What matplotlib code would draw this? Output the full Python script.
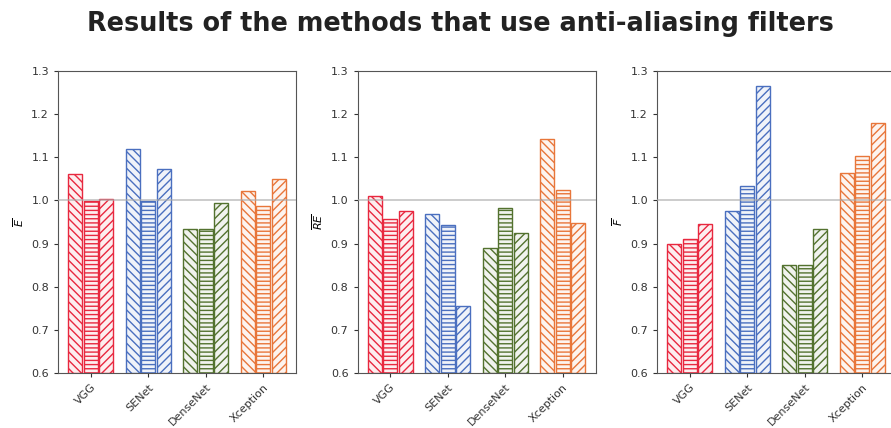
import numpy as np
import matplotlib.pyplot as plt

models = ['VGG', 'SENet', 'DenseNet', 'Xception']
colors = ['#e8283f', '#4a6fbf', '#53722f', '#e8763a']
hatches = ['\\\\\\\\', '----', '////']

# three anti-aliasing variants per model
E_vals = [[1.062, 0.998, 1.003],
          [1.119, 0.998, 1.074],
          [0.934, 0.934, 0.994],
          [1.022, 0.986, 1.050]]
RE_vals = [[1.011, 0.957, 0.976],
           [0.969, 0.943, 0.755],
           [0.890, 0.983, 0.925],
           [1.142, 1.025, 0.948]]
F_vals = [[0.900, 0.910, 0.946],
          [0.976, 1.034, 1.265],
          [0.851, 0.851, 0.934],
          [1.064, 1.103, 1.179]]

panels = [(E_vals, r'$\overline{E}$'),
          (RE_vals, r'$\overline{RE}$'),
          (F_vals, r'$\overline{F}$')]

plt.rcParams['hatch.linewidth'] = 1.0

fig = plt.figure(figsize=(8.91, 4.28), dpi=100)
fig.suptitle('Results of the methods that use anti-aliasing filters',
             fontsize=18.4, fontweight='bold', color='#222222',
             family='DejaVu Sans', x=0.517, y=0.975)

step = 0.27
width = 0.245
x = np.arange(len(models))
for p, (vals, ylabel) in enumerate(panels):
    ax = fig.add_axes([(58 + 299.5 * p) / 891, 55 / 428, 238 / 891, 302 / 428])
    for i in range(3):
        for j, m in enumerate(models):
            ax.bar(x[j] + (i - 1) * step, vals[j][i] - 0.6, width, bottom=0.6,
                   facecolor=colors[j] + '14', edgecolor=colors[j],
                   hatch=hatches[i], linewidth=1.0)
    # reference level
    ax.axhline(1.0, color='#aaaaaa', lw=1.2, alpha=0.7, zorder=3)
    ax.set_ylim(0.6, 1.3)
    ax.set_xlim(-0.57, 3.57)
    ax.set_xticks(x)
    ax.set_xticklabels(models, rotation=45, ha='right', rotation_mode='anchor')
    ax.set_yticks(np.arange(0.6, 1.31, 0.1))
    ax.tick_params(labelsize=8, colors='#333333', length=3)
    ax.set_ylabel(ylabel, fontsize=8)
    for s in ax.spines.values():
        s.set_color('#555555')

fig.savefig('out.png', dpi=100)
